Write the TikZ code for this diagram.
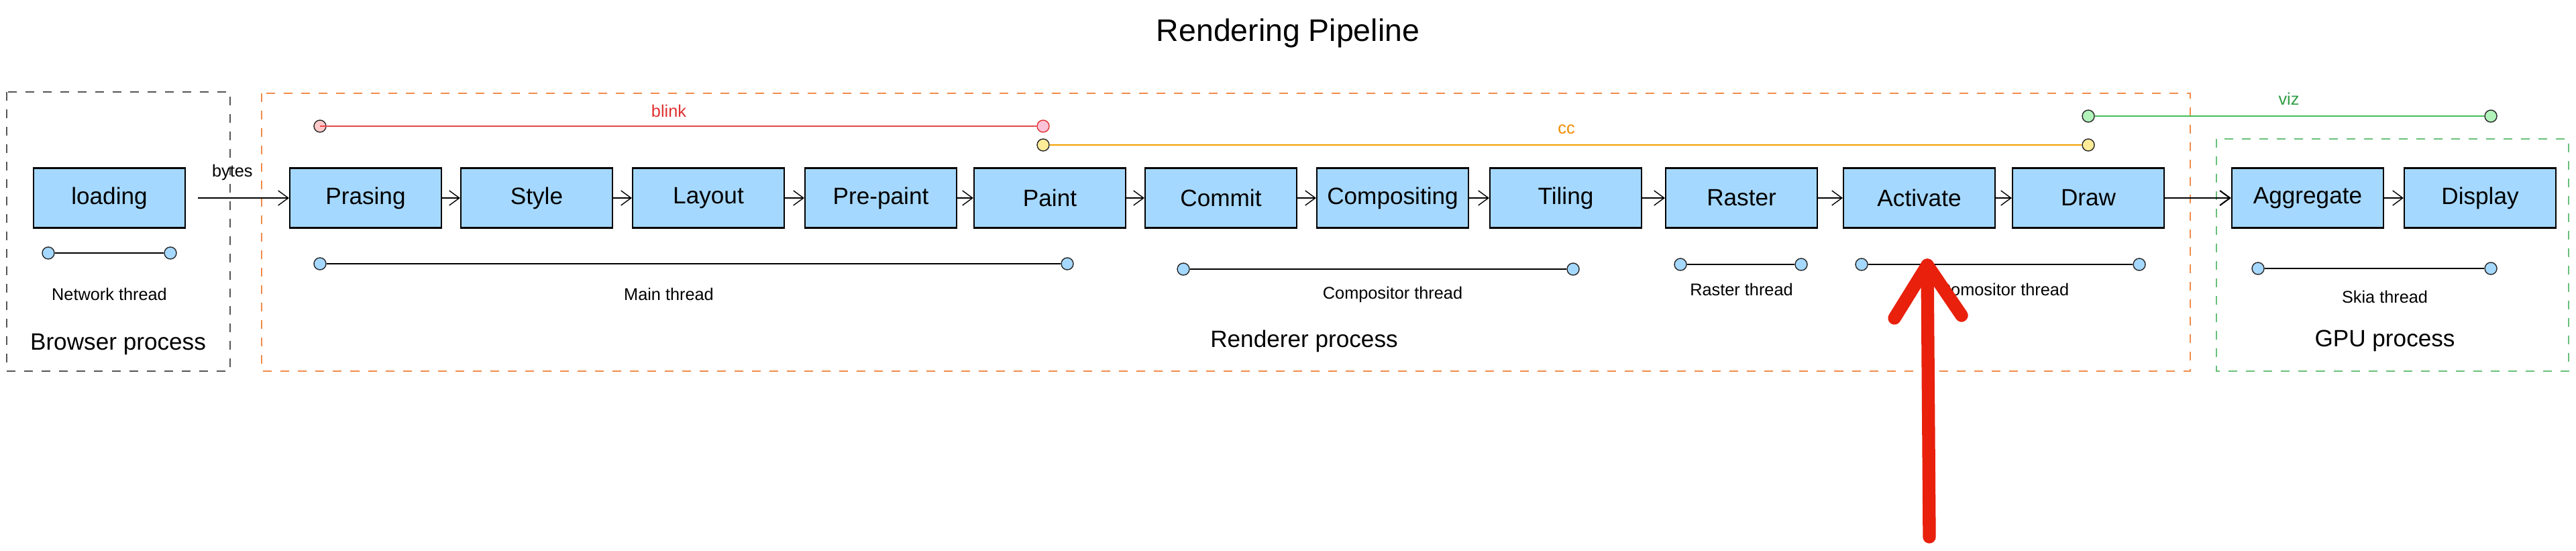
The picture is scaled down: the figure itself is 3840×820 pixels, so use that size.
\documentclass[tikz,border=0pt]{standalone}
\usepackage{fontspec}
\setmainfont{Liberation Sans}
\usepackage{xcolor}
\usepackage{tikz}
\usetikzlibrary{arrows.meta,positioning}

\definecolor{boxblue}{HTML}{A5D8FF}
\definecolor{blinkred}{HTML}{E5484D}
\definecolor{blinktext}{HTML}{E03131}
\definecolor{blinkfill}{HTML}{FFC9C9}
\definecolor{blinkpink}{HTML}{FCC2D7}
\definecolor{ccline}{HTML}{F59F00}
\definecolor{cctext}{HTML}{F08C00}
\definecolor{ccfill}{HTML}{FFEC99}
\definecolor{vizline}{HTML}{40C057}
\definecolor{viztext}{HTML}{2F9E44}
\definecolor{vizfill}{HTML}{B2F2BB}
\definecolor{browsergray}{HTML}{555555}
\definecolor{rendererorange}{HTML}{F08C4A}
\definecolor{gpugreen}{HTML}{69C07A}
\definecolor{annored}{HTML}{E8200C}

\begin{document}
\begin{tikzpicture}[x=0.01cm,y=-0.01cm,>={Straight Barb[length=1.5mm,width=2.2mm]},
  stage/.style={draw,line width=0.6pt,fill=boxblue,minimum width=2.26cm,minimum height=0.89cm,font=\fontsize{10}{12}\selectfont},
  dot/.style={circle,draw=black!85,line width=0.4pt,minimum size=0.18cm,inner sep=0pt},
  thread/.style={line width=0.6pt},
  lbl/.style={font=\fontsize{7.2}{9}\selectfont},
  proc/.style={font=\fontsize{10}{12}\selectfont},
  group/.style={dash pattern=on 3.7pt off 3.7pt,line width=0.5pt}]
\useasboundingbox (0,0) rectangle (3840,820);

\node[font=\fontsize{13.2}{16}\selectfont] (title) at (1920,49) {Rendering Pipeline};

% process frames
\draw[group,draw=browsergray] (10,137) rectangle (343,553);
\draw[group,draw=rendererorange] (390,139) rectangle (3265,553);
\draw[group,draw=gpugreen] (3304,207) rectangle (3829,553);
\node[proc] (browser) at (176,513) {Browser process};
\node[proc] (renderer) at (1944,508) {Renderer process};
\node[proc] (gpu) at (3555,508) {GPU process};

% stages
\node[stage] (loading) at (163,295) {loading};
\node[stage] (prasing) at (545,295) {Prasing};
\node[stage] (style) at (800,295) {Style};
\node[stage] (layout) at (1056,295) {Layout};
\node[stage] (prepaint) at (1313,295) {Pre-paint};
\node[stage] (paint) at (1565,295) {Paint};
\node[stage] (commit) at (1820,295) {Commit};
\node[stage] (compositing) at (2076,295) {Compositing};
\node[stage] (tiling) at (2334,295) {Tiling};
\node[stage] (raster) at (2596,295) {Raster};
\node[stage] (activate) at (2861,295) {Activate};
\node[stage] (draw) at (3113,295) {Draw};
\node[stage] (aggregate) at (3440,295) {Aggregate};
\node[stage] (display) at (3697,295) {Display};

\draw[->,shorten <=0.18cm] (loading) -- node[lbl,pos=0.45,above=4pt] {bytes} (prasing);
\draw[->] (prasing) -- (style);
\draw[->] (style) -- (layout);
\draw[->] (layout) -- (prepaint);
\draw[->] (prepaint) -- (paint);
\draw[->] (paint) -- (commit);
\draw[->] (commit) -- (compositing);
\draw[->] (compositing) -- (tiling);
\draw[->] (tiling) -- (raster);
\draw[->] (raster) -- (activate);
\draw[->] (activate) -- (draw);
\draw[->,line width=0.6pt] (draw) -- (aggregate);
\draw[->] (aggregate) -- (display);

% module spans
\node[dot,fill=blinkfill] (blinkA) at (477,188) {};
\node[dot,draw=blinktext,fill=blinkpink] (blinkB) at (1555,188) {};
\draw[blinkred,line width=0.8pt] (blinkA.center) -- (blinkB);
\node[lbl,text=blinktext] (blinklbl) at (997,165) {blink};
\node[dot,fill=ccfill] (ccA) at (1555,216) {};
\node[dot,fill=ccfill] (ccB) at (3113,216) {};
\draw[ccline,line width=0.8pt] (ccA) -- (ccB);
\node[lbl,text=cctext] (cclbl) at (2335,193) {cc};
\node[dot,fill=vizfill] (vizA) at (3113,173) {};
\node[dot,fill=vizfill] (vizB) at (3713,173) {};
\draw[vizline,line width=0.8pt] (vizA) -- (vizB);
\node[lbl,text=viztext] (vizlbl) at (3412,147) {viz};

% threads
\node[dot,fill=boxblue] (netA) at (72,377) {};
\node[dot,fill=boxblue] (netB) at (254,377) {};
\draw[thread] (netA) -- (netB);
\node[lbl] (netlbl) at (163,438) {Network thread};
\node[dot,fill=boxblue] (mainA) at (477,393) {};
\node[dot,fill=boxblue] (mainB) at (1591,393) {};
\draw[thread] (mainA) -- (mainB);
\node[lbl] (mainlbl) at (997,438) {Main thread};
\node[dot,fill=boxblue] (compA) at (1764,401) {};
\node[dot,fill=boxblue] (compB) at (2345,401) {};
\draw[thread] (compA) -- (compB);
\node[lbl] (complbl) at (2076,439) {Compositor thread};
\node[dot,fill=boxblue] (rastA) at (2505,394) {};
\node[dot,fill=boxblue] (rastB) at (2685,394) {};
\draw[thread] (rastA) -- (rastB);
\node[lbl] (rastlbl) at (2596,431) {Raster thread};
\node[dot,fill=boxblue] (implA) at (2775,394) {};
\node[dot,fill=boxblue] (implB) at (3189,394) {};
\draw[thread] (implA) -- (implB);
\node[lbl] (impllbl) at (2987,431) {Comositor thread};
\node[dot,fill=boxblue] (skiaA) at (3366,400) {};
\node[dot,fill=boxblue] (skiaB) at (3713,400) {};
\draw[thread] (skiaA) -- (skiaB);
\node[lbl] (skialbl) at (3555,442) {Skia thread};

% hand-drawn marker
\coordinate (tip) at (2873,395);
\draw[annored,line width=5.5pt,line cap=round,line join=round] (2876,800) -- (tip);
\draw[annored,line width=5.5pt,line cap=round,line join=round] (2824,474) -- (tip) -- (2924,470);
\end{tikzpicture}
\end{document}
